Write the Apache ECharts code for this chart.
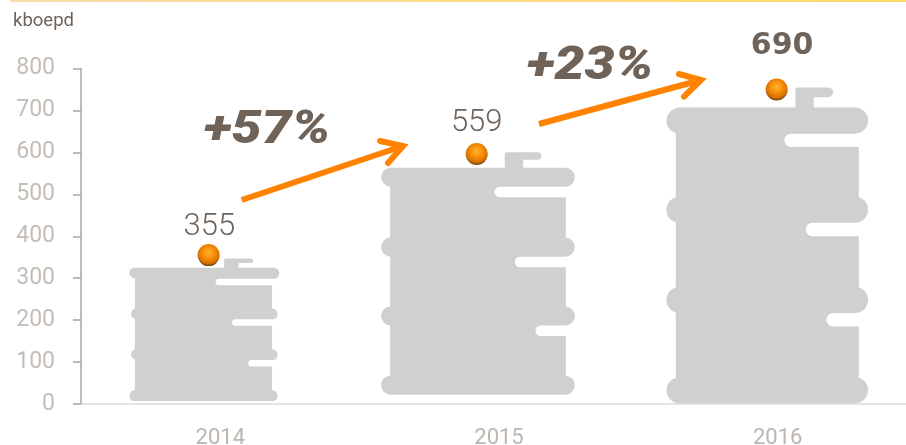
<!DOCTYPE html>
<html>
<head>
<meta charset="utf-8">
<style>
html,body{margin:0;padding:0;background:#fff;}
#main{width:906px;height:445px;}
</style>
<script src="https://cdn.jsdelivr.net/npm/echarts@6/dist/echarts.min.js"></script>
</head>
<body>
<div id="main"></div>
<script>
var years = ['2014', '2015', '2016'];
var yTicks = [0, 100, 200, 300, 400, 500, 600, 700, 800];
// printed labels
var production = [355, 559, 690];
// heights as drawn in the picture (barrels and balls don't sit on the printed value)
var barrelHeights = [340, 578, 753];
var ballLevels = [355, 596, 750];
var growthLabels = ['+57%', '+23%'];

var textColor = '#6f6258';
var font = 'Roboto';

// barrel outlines, in px
var barrelShapes = [
	{w: 150, hoop: 11, inset: 7.2, tops: [9.3, 49.6, 90.3, 131.3], notch: 6.5, notchX: [87, 103.3, 119.3], cap: [95.3, 124.3, 109.7, 4.6], dx: -16, dy: -3},
	{w: 193.7, hoop: 19, inset: 9, tops: [15.3, 85, 153.6, 222.6], notch: 10.5, notchX: [113.3, 133.6, 154.3], cap: [123.6, 160.3, 142, 7.3], dx: -21, dy: -9.3},
	{w: 201.7, hoop: 26, inset: 9.3, tops: [20, 109, 199, 289], notch: 13.3, notchX: [118, 139.3, 160], cap: [129, 166.7, 147.3, 9.6], dx: -10.4, dy: -0.7}
];
var ballOffsets = [-11.7, -22.3, -1];
var labelOffsets = [[0.7, -28], [0, -31], [5.4, -43]];

function barrelPath(b) {
	var r = b.hoop / 2, W = b.w, n = b.notch / 2;
	var d = r - b.inset, dy = Math.sqrt(r * r - d * d);
	var top = b.tops[0], f = b.cap[3], i, cy, y;
	var arc = function (rad, sweep, x, y) {
		return 'A' + rad + ' ' + rad + ' 0 0 ' + sweep + ' ' + x + ' ' + y;
	};
	var p = 'M' + r + ' ' + top + 'L' + b.cap[0] + ' ' + top;
	p += 'L' + b.cap[0] + ' 2Q' + b.cap[0] + ' 0 ' + (b.cap[0] + 2) + ' 0';
	p += 'L' + (b.cap[1] - f / 2) + ' 0' + arc(f / 2, 1, b.cap[1] - f / 2, f);
	p += 'L' + b.cap[2] + ' ' + f + 'L' + b.cap[2] + ' ' + top;
	p += 'L' + (W - r) + ' ' + top + arc(r, 1, W - r, top + 2 * r);
	for (i = 0; i < 3; i++) {
		y = b.tops[i] + b.hoop;
		cy = b.tops[i + 1] + r;
		p += 'L' + (b.notchX[i] + n) + ' ' + y + arc(n, 0, b.notchX[i] + n, y + b.notch);
		p += 'L' + (W - b.inset) + ' ' + (y + b.notch) + 'L' + (W - b.inset) + ' ' + (cy - dy);
		p += arc(r, 1, W - r, cy + r);
	}
	p += 'L' + r + ' ' + (cy + r) + arc(r, 1, b.inset, cy - dy);
	for (i = 2; i >= 1; i--) {
		cy = b.tops[i] + r;
		p += 'L' + b.inset + ' ' + (cy + dy) + arc(r, 1, b.inset, cy - dy);
	}
	cy = top + r;
	p += 'L' + b.inset + ' ' + (cy + dy) + arc(r, 1, r, top) + 'Z';
	return 'path://' + p;
}

var barrelData = [], ballData = [];
for (var i = 0; i < years.length; i++) {
	var s = barrelShapes[i];
	barrelData.push({
		value: barrelHeights[i],
		symbol: barrelPath(s),
		symbolSize: [s.w, '100%'],
		symbolOffset: [s.dx, s.dy]
	});
	ballData.push({
		value: [years[i], ballLevels[i]],
		symbolOffset: [ballOffsets[i], 0],
		label: {
			show: true,
			position: 'inside',
			formatter: String(production[i]),
			offset: labelOffsets[i],
			color: textColor,
			fontFamily: i == 2 ? 'DejaVu Sans' : font,
			fontSize: i == 2 ? 30 : 31,
			fontWeight: i == 2 ? 700 : 300
		}
	});
}

function arrow(shaft, head) {
	return [
		{type: 'polyline', z: 10, shape: {points: shaft}, style: {stroke: '#ff8200', lineWidth: 6, fill: null}},
		{type: 'polyline', z: 10, shape: {points: head}, style: {stroke: '#ff8200', lineWidth: 6, fill: null, lineCap: 'round', lineJoin: 'miter'}}
	];
}

var chart = echarts.init(document.getElementById('main'));
var option = {
	animation: false,
	backgroundColor: '#fff',
	// the last band runs past the right edge of the picture
	grid: {left: 81, width: 836, top: 68.5, bottom: 41, outerBoundsMode: 'none'},
	xAxis: {
		type: 'category',
		data: years,
		axisLine: {lineStyle: {color: '#dcdcdc', width: 1.5}},
		axisTick: {length: 8, lineStyle: {color: '#c8c8c8'}},
		axisLabel: {margin: 23, color: '#bdb5ad', fontFamily: font, fontWeight: 400, fontSize: 22}
	},
	yAxis: {
		type: 'value',
		min: yTicks[0],
		max: yTicks[yTicks.length - 1],
		interval: 100,
		splitLine: {show: false},
		axisLine: {show: true, lineStyle: {color: '#aaa5a0', width: 1.5}},
		axisTick: {show: true, length: 8, lineStyle: {color: '#aaa5a0', width: 1.5}},
		axisLabel: {margin: 26, color: '#c4bdb6', fontFamily: font, fontWeight: 400, fontSize: 23}
	},
	series: [
		{
			type: 'pictorialBar',
			symbolPosition: 'start',
			itemStyle: {color: '#cfd0d0'},
			data: barrelData
		},
		{
			type: 'scatter',
			symbol: 'circle',
			symbolSize: 22,
			z: 5,
			itemStyle: {
				opacity: 1,
				color: new echarts.graphic.RadialGradient(0.5, 0.38, 0.62, [
					{offset: 0, color: '#ffb52e'},
					{offset: 0.45, color: '#f78d0a'},
					{offset: 0.8, color: '#d87000'},
					{offset: 1, color: '#5f3d12'}
				])
			},
			data: ballData
		}
	],
	graphic: [
		{
			type: 'rect',
			shape: {x: 10, y: 0, width: 896, height: 2},
			style: {fill: new echarts.graphic.LinearGradient(0, 0, 1, 0, [
				{offset: 0, color: '#fbdcab'},
				{offset: 1, color: '#ffd966'}
			])}
		},
		{type: 'text', x: 13, y: 12, style: {text: 'kboepd', fill: textColor, font: '400 18.5px Roboto'}},
		{type: 'text', x: 267, y: 131, scaleX: 1.14, z: 10, style: {text: growthLabels[0], fill: textColor, align: 'center', verticalAlign: 'middle', font: 'italic 900 47px Roboto'}},
		{type: 'text', x: 590, y: 67, scaleX: 1.14, z: 10, style: {text: growthLabels[1], fill: textColor, align: 'center', verticalAlign: 'middle', font: 'italic 900 47px Roboto'}}
	].concat(
		arrow([[241.7, 200], [403, 146]], [[380, 141], [403, 146], [388, 163]]),
		arrow([[539, 124], [701, 80]], [[679, 74], [701, 80], [684, 96.7]])
	)
};
chart.setOption(option);

window.onresize = function () {
	chart.resize();
};
</script>
</body>
</html>
